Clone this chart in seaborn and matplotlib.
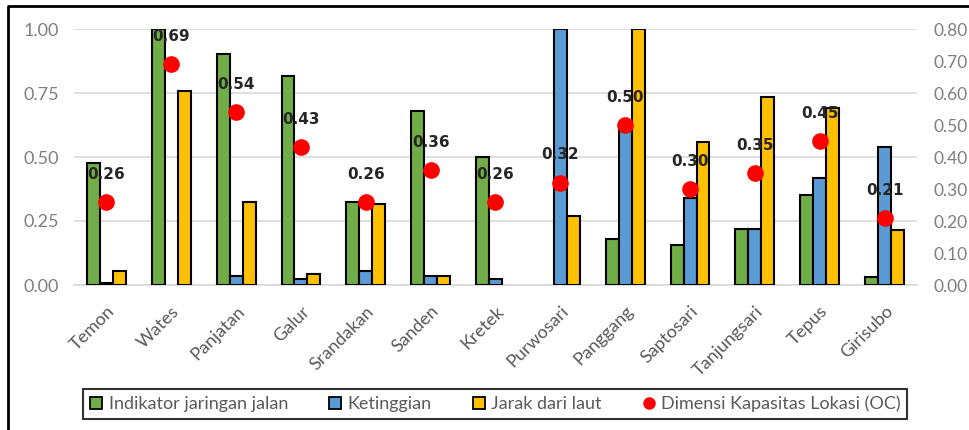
import numpy as np
import pandas as pd
import matplotlib
matplotlib.use("Agg")
import matplotlib.pyplot as plt
from matplotlib.lines import Line2D
import seaborn as sns

categories = ["Temon", "Wates", "Panjatan", "Galur", "Srandakan", "Sanden", "Kretek",
              "Purwosari", "Panggang", "Saptosari", "Tanjungsari", "Tepus", "Girisubo"]
jaringan_jalan = [0.475, 1.00, 0.904, 0.815, 0.323, 0.678, 0.499, 0.0, 0.178, 0.155, 0.217, 0.350, 0.032]
ketinggian = [0.007, 0.0, 0.034, 0.022, 0.056, 0.036, 0.022, 1.00, 0.62, 0.339, 0.220, 0.418, 0.538]
jarak_laut = [0.056, 0.759, 0.323, 0.043, 0.315, 0.036, 0.0, 0.270, 1.00, 0.560, 0.736, 0.690, 0.214]
oc = [0.26, 0.69, 0.54, 0.43, 0.26, 0.36, 0.26, 0.32, 0.50, 0.30, 0.35, 0.45, 0.21]
series_names = ["Indikator jaringan jalan", "Ketinggian", "Jarak dari laut"]
oc_name = "Dimensi Kapasitas Lokasi (OC)"
left_ticks = [0.0, 0.25, 0.5, 0.75, 1.0]
right_ticks = [0.0, 0.1, 0.2, 0.3, 0.4, 0.5, 0.6, 0.7, 0.8]

colors = ["#70AD47", "#5B9BD5", "#FFC000"]
red = "#FF0000"
tick_gray = "#7F7F7F"
label_gray = "#595959"

sns.set_style("white")
plt.rcParams["font.family"] = ["Lato", "DejaVu Sans"]

df = pd.DataFrame({
    "category": categories * 3,
    "series": sum([[s] * len(categories) for s in series_names], []),
    "value": jaringan_jalan + ketinggian + jarak_laut,
})

fig = plt.figure(figsize=(9.69, 4.30), dpi=100)
ax = fig.add_axes([74 / 969, 1 - 285 / 430, (917 - 74) / 969, (285 - 29) / 430])

sns.barplot(data=df, x="category", y="value", hue="series", hue_order=series_names,
            palette=colors, saturation=1, width=0.6, edgecolor="black", linewidth=1.5,
            errorbar=None, legend=False, ax=ax, zorder=3)
for p in ax.patches:
    if p.get_height() == 0:
        p.set_linewidth(0)

ax.set_ylim(0, 1.0)
ax.set_xlim(-0.5, len(categories) - 0.5)
ax.set_yticks(left_ticks)
ax.set_yticklabels([f"{t:.2f}" for t in left_ticks], color=tick_gray, fontsize=13)
ax.yaxis.grid(True, color="#D9D9D9", linewidth=1.2, zorder=0)
ax.set_axisbelow(True)
for s in ["top", "right", "left"]:
    ax.spines[s].set_visible(False)
ax.spines["bottom"].set_color("#D9D9D9")
ax.spines["bottom"].set_linewidth(1.2)
ax.set_xlabel("")
ax.set_ylabel("")
ax.tick_params(axis="y", length=0, pad=11)
ax.tick_params(axis="x", length=0, pad=13)
ax.set_xticks(range(len(categories)))
ax.set_xticklabels(categories, rotation=45, ha="right", rotation_mode="anchor",
                   color=label_gray, fontsize=13)

ax2 = ax.twinx()
sns.pointplot(x=categories, y=oc, ax=ax2, linestyle="none", color=red, markers="o",
              markersize=12, markeredgewidth=0, zorder=5)
ax2.set_ylim(0, 0.8)
ax2.set_xlim(-0.5, len(categories) - 0.5)
ax2.set_yticks(right_ticks)
ax2.set_yticklabels([f"{t:.2f}" for t in right_ticks], color=tick_gray, fontsize=12.5)
ax2.tick_params(axis="y", length=0, pad=12)
for s in ["top", "right", "left", "bottom"]:
    ax2.spines[s].set_visible(False)
ax2.set_ylabel("")

for i, v in enumerate(oc):
    ax2.annotate(f"{v:.2f}", (i, v), xytext=(0, 20), textcoords="offset points",
                 ha="center", va="center", fontsize=11, fontweight="bold",
                 color="#262626", family=["DejaVu Sans"], zorder=6)

handles = [Line2D([0], [0], marker="s", linestyle="none", markersize=9,
                  markerfacecolor=c, markeredgecolor="black", markeredgewidth=1.3)
           for c in colors]
handles.append(Line2D([0], [0], marker="o", linestyle="none", markersize=9,
                      markerfacecolor=red, markeredgewidth=0))
leg = fig.legend(handles, series_names + [oc_name], loc="center",
                 bbox_to_anchor=(495 / 969, 1 - 404 / 430), ncol=4, frameon=True,
                 fancybox=False, edgecolor="black", fontsize=13, handlelength=0.8,
                 handletextpad=0.3, columnspacing=2.2, borderpad=0.35, borderaxespad=0,
                 labelcolor=label_gray)
leg.get_frame().set_linewidth(1.5)

fig.add_artist(Line2D([8 / 969, 8 / 969, 1.0], [0.0, 1 - 6 / 430, 1 - 6 / 430],
                      transform=fig.transFigure, color="black", linewidth=2))

fig.savefig("out.png", dpi=100)
